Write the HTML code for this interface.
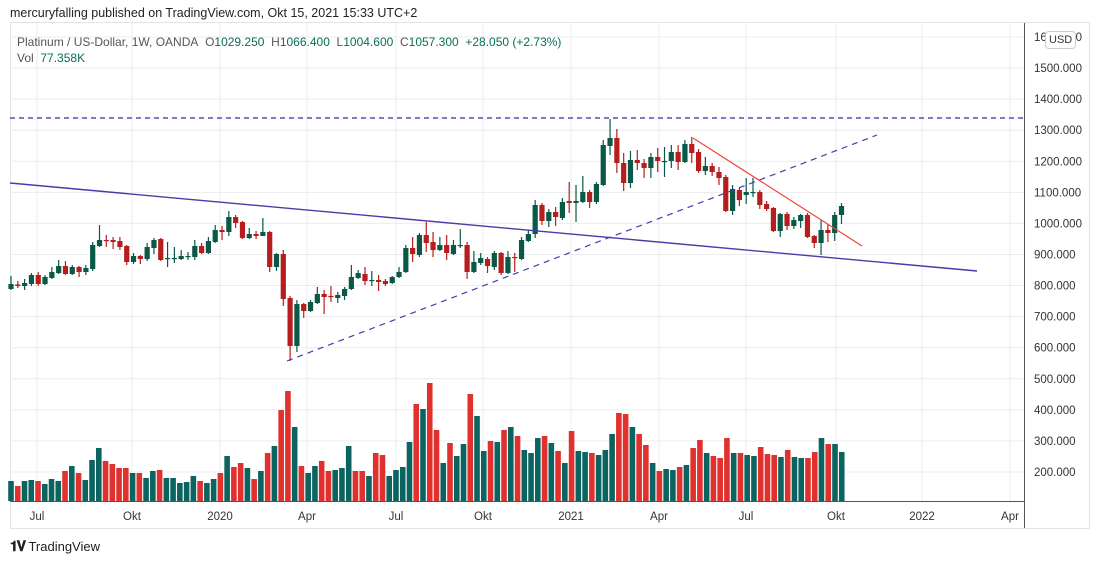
<!DOCTYPE html>
<html><head><meta charset="utf-8"><style>
html,body{margin:0;padding:0;background:#fff;}
body{width:1100px;height:564px;overflow:hidden;position:relative;font-family:"Liberation Sans","DejaVu Sans",sans-serif;}
.t{position:absolute;white-space:nowrap;}
</style></head><body>
<div class="t" style="left:10px;top:6px;font-size:12.5px;color:#222;">mercuryfalling published on TradingView.com, Okt 15, 2021 15:33 UTC+2</div>
<svg id="s" width="1100" height="564" style="position:absolute;left:0;top:0"></svg>
<div class="t" style="left:17px;top:35px;font-size:12px;color:#555;">Platinum / US-Dollar, 1W, OANDA&nbsp; <span style="color:#555">O</span><span style="color:#0b6e58">1029.250</span>&nbsp; <span>H</span><span style="color:#0b6e58">1066.400</span>&nbsp; <span>L</span><span style="color:#0b6e58">1004.600</span>&nbsp; <span>C</span><span style="color:#0b6e58">1057.300&nbsp; +28.050 (+2.73%)</span></div>
<div class="t" style="left:17px;top:51px;font-size:12px;color:#555;">Vol&nbsp; <span style="color:#0b6e58">77.358K</span></div>
<div class="t" style="left:1045px;top:31px;font-size:11px;color:#333;border:1px solid #ccc;border-radius:4px;background:#fff;padding:2px 3px;">USD</div>
<div class="t" style="left:10px;top:538px;font-size:13px;color:#222;"><b style="font-size:14px;letter-spacing:-1px">𝟏𝐕</b> TradingView</div>
<script>
const NS="http://www.w3.org/2000/svg",s=document.getElementById('s');
function el(n,a){const e=document.createElementNS(NS,n);for(const k in a)e.setAttribute(k,a[k]);s.appendChild(e);return e;}
el('rect',{x:10.5,y:22.5,width:1079,height:506,fill:'none',stroke:'#e4e4e8'});
const vx=[37,132,220,307,396,483,571,659,746,836,922,1010];
vx.forEach(x=>el('line',{x1:x,y1:23,x2:x,y2:501,stroke:'#ececef'}));
for(let k=0;k<15;k++){const y=37+31.07*k;el('line',{x1:10,y1:y,x2:1024,y2:y,stroke:'#ececef'});}
const pl=[1600,1500,1400,1300,1200,1100,1000,900,800,700,600,500,400,300,200];
pl.forEach((p,k)=>{const t=el('text',{x:1034,y:37+31.07*k+4,'font-size':11.5,fill:'#333','font-family':'Liberation Sans, sans-serif'});t.textContent=p+'.000';});
el('line',{x1:1024.5,y1:23,x2:1024.5,y2:528,stroke:'#555'});
el('line',{x1:10,y1:501.5,x2:1024,y2:501.5,stroke:'#555'});
const lab=['Jul','Okt','2020','Apr','Jul','Okt','2021','Apr','Jul','Okt','2022','Apr'];
lab.forEach((l,i)=>{const t=el('text',{x:vx[i],y:520,'font-size':11.5,fill:'#333','text-anchor':'middle','font-family':'Liberation Sans, sans-serif'});t.textContent=l;});
const vt=[481,486,481,480,481,484,479,481,471,466,473,480,460,448,461,464,468,468,473,473,478,471,470,478,478,483,482,476,481,483,479,473,456,467,463,468,479,471,453,446,410,391,427,466,473,466,461,471,470,468,446,471,471,476,453,455,476,470,467,442,404,409,383,430,463,443,
456,444,394,416,451,441,442,430,427,436,450,453,438,436,443,451,463,431,451,452,453,455,450,434,413,414,427,434,445,463,471,469,470,467,465,448,440,453,456,458,438,453,453,455,456,447,454,455,457,450,457,458,458,452,438,444,444,452];
const vc="grggrgggrg"+"rgggrrrrgr"+"ggrgggggrg"+"grgrrgrgrg"+"rrgrggrrgg"+"grrgrrgggg"+"rgrrgr"+
"ggrggrgrgr"+"gggrgrgrgg"+"rgggrrgrrg"+"rggrgrrgrr"+"rgrggrrrgr"+"ggrrgrgg";
vt.forEach((y,i)=>{const x=11+6.754*i;el('rect',{x:x-2.8,y:y,width:5.6,height:501-y,fill:vc[i]==='g'?'#0c6461':'#e0312f'});});
const C=`g 284 289 276 290;r 284.5 286 281 288;g 283 286 279 290;g 275 284 273 286;r 275 284 272 286;g 277 284 275 285;g 272 278 267 279;g 266 273 260 274;r 266 274 261 275;g 267 274 265 275;r 267 272 266 277;g 268 272 265 275;g 245 269 242 271;g 240 246 225 247;r 240 241 235 247;r 240 242 237 249;r 241 247 237 250;r 246 262 245 265;g 256 262 253 264;r 256 259 255 264;g 247 259 243 261;g 240 248 238 254;r 239 260 238 261;g 258 259 242 267;g 258 259 247 263;g 256 259 250 260;g 256 257 252 260;g 246 257 240 260;r 246 253 243 254;g 241 253 237 254;g 230 242 225 243;r 230 232 226 240;g 217 232 211 236;r 217 223 215 228;r 222 238 221 239;g 234 238 228 239;r 234 236 231 239;g 232 236 218 236;r 232 267 231 272;g 254 267 253 271;r 254 299 250 306;r 298 346 296 361;g 304 346 300 352;r 304 311 303 318;g 302 311 300 312;g 294 303 287 304;r 294 297 290 314;r 296 297 286 302;g 295 298 292 303;g 289 296 287 300;g 277 289 265 290;g 273 278 270 279;r 274 281 267 285;g 280 280.5 271 286;r 280 282 275 291;r 281 284 279 286;g 277 283 276 284;g 272 277 267 278;g 248 272 245 273;r 248 254 237 262;g 235 255 233 257;r 235 243 222 252;r 242 250 232 257;g 245 250 237 251;r 245 253 235 260;g 245 254 240 255;g 245 246 229 248;r 245 272 242 279;g 262 272 251 273;g 258 263 253 265;r 259 266 257 273;g 253 267 251 270;r 253 273 252 275;g 257 273 251 274;r 257 258 253 272;g 240 259 237 260;g 234 241 230 242;g 205 234 200 238;r 205 221 203 225;g 212 221 209 227;r 212 217 207 226;g 202 218 198 220;r 201 203 182 213;g 201 203 185 222;g 192 202 176 203;r 192 202 190 208;g 184 202 182 204;g 145 185 140 186;g 138 146 119 155;r 138 163 129 173;r 163 183 153 191;g 160 183 151 188;r 160 163 150 170;r 163 168 159 178;g 157 168 153 178;r 157 161 148 172;g 161 162 147 177;g 152 161 145 168;r 152 162 145 170;g 144 162 140 163;r 144 153 137 163;r 152 171 149 173;g 166 171 157 175;r 166 172 163 176;r 172 178 167 185;r 177 211 175 212;g 189 211 185 215;r 190 200 188 206;g 192 195 178 204;g 192 193 178 197;r 192 205 190 209;r 204 209 201 211;r 208 231 207 232;g 214 231 213 237;r 214 226 212 230;g 220 226 217 229;g 215 221 214 228;r 215 237 213 238;r 236 243 235 248;g 230 243 220 255;r 230 233 224 242;g 215 233 212 241;g 206 215 203 224`.split(';');
const n=C.length;
C.forEach((r,i)=>{const a=r.trim().split(' ');const col=a[0]==='g'?'#0a5846':'#b71d1d';const t=+a[1],b=+a[2],h=+a[3],l=+a[4];const x=11+(841.5-11)/(n-1)*i;
el('line',{x1:x,y1:h,x2:x,y2:l,stroke:col,'stroke-width':1.2});
el('rect',{x:x-2.6,y:t,width:5.2,height:Math.max(1.2,b-t),fill:col});});
el('line',{x1:10,y1:118,x2:1024,y2:118,stroke:'#2a2ab0','stroke-width':1.3,'stroke-dasharray':'5,4'});
el('line',{x1:10,y1:183,x2:977,y2:271,stroke:'#4b3aa8','stroke-width':1.4});
el('line',{x1:287,y1:361,x2:877,y2:135,stroke:'#4a3ab0','stroke-width':1.2,'stroke-dasharray':'6,5'});
el('line',{x1:693,y1:138,x2:862,y2:246,stroke:'#f0453a','stroke-width':1.2});
</script>
</body></html>
